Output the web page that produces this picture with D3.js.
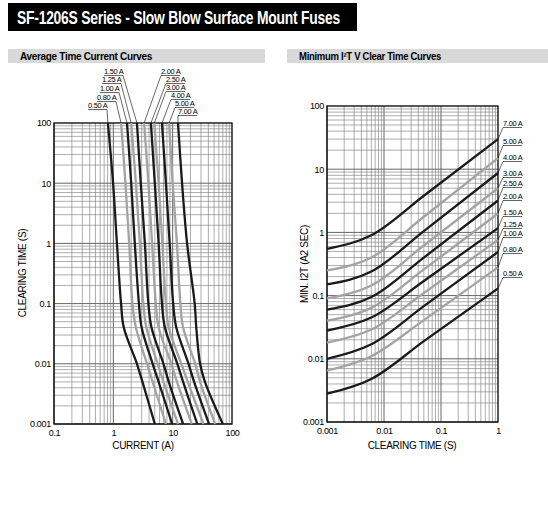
<!DOCTYPE html>
<html><head><meta charset="utf-8">
<script src="https://cdn.jsdelivr.net/npm/d3@7"></script>
<style>
body{margin:0;background:#fff}
svg{font-family:"Liberation Sans",Arial,sans-serif;letter-spacing:-0.3px}
</style></head>
<body><svg id="c" width="548" height="522"></svg>
<script>
// ratings, shared by both charts
const ratings = ['0.50 A','0.80 A','1.00 A','1.25 A','1.50 A','2.00 A','2.50 A','3.00 A','4.00 A','5.00 A','7.00 A'];
const colors = ['#1a1a1a','#a3a3a3','#1a1a1a','#a3a3a3','#1a1a1a','#a3a3a3','#1a1a1a','#a3a3a3','#1a1a1a','#a3a3a3','#1a1a1a'];

// left: clearing time (s) vs current (A)
const ttTimes = [100, 10, 1, 0.1, 0.04, 0.01, 0.005, 0.001];
const ttCurrents = [
  [0.81, 0.99, 1.15, 1.35, 1.5, 2.5, 3.1, 5.0],
  [1.35, 1.6, 1.85, 2.1, 2.4, 3.7, 4.6, 7.7],
  [1.7, 2.0, 2.3, 2.7, 3.0, 4.6, 5.8, 9.8],
  [2.0, 2.4, 2.8, 3.2, 3.6, 5.6, 7.0, 12.3],
  [2.5, 2.9, 3.4, 3.9, 4.4, 7.0, 8.6, 15],
  [3.3, 3.9, 4.5, 5.2, 5.8, 9.5, 11.8, 21],
  [4.3, 5.0, 5.8, 6.6, 7.4, 12, 15, 26],
  [4.9, 5.8, 6.7, 7.7, 8.6, 14, 18, 33],
  [6.6, 7.7, 8.9, 10.2, 11.5, 18.5, 23, 41],
  [8.7, 10, 11.8, 13.5, 15, 24, 29, 52],
  [12.3, 14.4, 17.5, 23.5, 25, 29, 35, 70]
];
// label positions (top left group / right group)
const ttLabelPos = [[88,108],[97,100],[100,91],[102,82],[104,74],[161,74],[166,82],[166,90],[171,98],[175,106],[178,114]];

// right: min I2t vs clearing time
const i2tTimes = [0.001, 0.006, 0.05, 1];
const i2tValues = [
  [0.0028, 0.0048, 0.019, 0.13],
  [0.0065, 0.011, 0.041, 0.28],
  [0.01, 0.017, 0.068, 0.49],
  [0.018, 0.029, 0.11, 0.76],
  [0.028, 0.045, 0.17, 1.17],
  [0.04, 0.064, 0.26, 2.0],
  [0.06, 0.095, 0.40, 3.2],
  [0.09, 0.145, 0.62, 5.0],
  [0.15, 0.24, 1.05, 8.7],
  [0.25, 0.4, 1.77, 15],
  [0.55, 0.9, 3.8, 30]
];
const i2tLabelY = [276, 252, 236, 227, 215, 199, 186, 176, 160, 144, 126];

const svg = d3.select('#c');

// title
svg.append('rect').attr('x', 8).attr('y', 3).attr('width', 349).attr('height', 28).attr('fill', '#000');
svg.append('text').attr('x', 17).attr('y', 24).attr('fill', '#fff').attr('font-size', 19).attr('font-weight', 700)
  .attr('textLength', 323).attr('lengthAdjust', 'spacingAndGlyphs')
  .text('SF-1206S Series - Slow Blow Surface Mount Fuses');

function header(x, w, txt, len) {
  svg.append('rect').attr('x', x).attr('y', 49).attr('width', w).attr('height', 14).attr('fill', '#d9d9d9');
  svg.append('text').attr('x', x + 12).attr('y', 60).attr('font-size', 10).attr('font-weight', 700)
    .attr('textLength', len).attr('lengthAdjust', 'spacingAndGlyphs').text(txt);
}
header(8, 257, 'Average Time Current Curves', 132);
header(287, 261, 'Minimum I²T V Clear Time Curves', 142);

function grid(g, x, y, xd, yd) {
  const [x0, x1] = x.range(), [y0, y1] = y.range();
  const minors = (d) => {
    const out = [];
    for (let e = Math.log10(d[0]); e < Math.log10(d[1]); e++)
      for (let m = 1; m < 10; m++) out.push({v: m * Math.pow(10, e), major: m === 1});
    return out;
  };
  minors(xd).forEach(o => g.append('line').attr('x1', x(o.v)).attr('x2', x(o.v)).attr('y1', y0).attr('y2', y1)
    .attr('stroke', o.major ? '#555' : '#777').attr('stroke-width', o.major ? 0.9 : 0.6));
  minors(yd).forEach(o => g.append('line').attr('y1', y(o.v)).attr('y2', y(o.v)).attr('x1', x0).attr('x2', x1)
    .attr('stroke', o.major ? '#555' : '#777').attr('stroke-width', o.major ? 0.9 : 0.6));
  g.append('rect').attr('x', x0).attr('y', y1).attr('width', x1 - x0).attr('height', y0 - y1)
    .attr('fill', 'none').attr('stroke', '#000').attr('stroke-width', 1.3);
}
const fmt = d => String(d);
const styleTicks = a => { a.select('.domain').remove(); a.selectAll('text').attr('font-size', 9).attr('font-family', null); };

// ---- left chart
const xL = d3.scaleLog().domain([0.1, 100]).range([54, 232]);
const yL = d3.scaleLog().domain([0.001, 100]).range([424, 123]);
const gL = svg.append('g');
grid(gL, xL, yL, [0.1, 100], [0.001, 100]);
gL.append('g').attr('transform', 'translate(0,424)')
  .call(d3.axisBottom(xL).tickValues([0.1, 1, 10, 100]).tickFormat(fmt).tickSize(0).tickPadding(6)).call(styleTicks);
gL.append('g').attr('transform', 'translate(54,0)')
  .call(d3.axisLeft(yL).tickValues([0.001, 0.01, 0.1, 1, 10, 100]).tickFormat(fmt).tickSize(0).tickPadding(3)).call(styleTicks);
const lineL = d3.line().curve(d3.curveCatmullRom.alpha(0.5));
ttCurrents.forEach((c, i) => {
  gL.append('path').attr('d', lineL(c.map((v, j) => [xL(v), yL(ttTimes[j])])))
    .attr('fill', 'none').attr('stroke', colors[i]).attr('stroke-width', 2.3);
  const [lx, ly] = ttLabelPos[i];
  gL.append('text').attr('x', lx).attr('y', ly).attr('font-size', 7.5).text(ratings[i]);
  const w = 19;
  const ex = i < 5 ? lx + w : lx;
  gL.append('line').attr('x1', lx).attr('x2', lx + w).attr('y1', ly + 1.5).attr('y2', ly + 1.5).attr('stroke', '#000').attr('stroke-width', 0.6);
  gL.append('line').attr('x1', ex).attr('y1', ly + 1.5).attr('x2', xL(c[0])).attr('y2', 123).attr('stroke', '#000').attr('stroke-width', 0.6);
});
svg.append('text').attr('x', 143).attr('y', 449).attr('text-anchor', 'middle').attr('font-size', 10).text('CURRENT (A)');
svg.append('text').attr('transform', 'translate(26,273) rotate(-90)').attr('text-anchor', 'middle').attr('font-size', 10).text('CLEARING TIME (S)');

// ---- right chart
const xR = d3.scaleLog().domain([0.001, 1]).range([327, 498]);
const yR = d3.scaleLog().domain([0.001, 100]).range([422, 106]);
const gR = svg.append('g');
grid(gR, xR, yR, [0.001, 1], [0.001, 100]);
gR.append('g').attr('transform', 'translate(0,422)')
  .call(d3.axisBottom(xR).tickValues([0.001, 0.01, 0.1, 1]).tickFormat(fmt).tickSize(0).tickPadding(6)).call(styleTicks);
gR.append('g').attr('transform', 'translate(327,0)')
  .call(d3.axisLeft(yR).tickValues([0.001, 0.01, 0.1, 1, 10, 100]).tickFormat(fmt).tickSize(0).tickPadding(3)).call(styleTicks);
const lineR = d3.line().curve(d3.curveMonotoneX);
i2tValues.forEach((c, i) => {
  gR.append('path').attr('d', lineR(c.map((v, j) => [xR(i2tTimes[j]), yR(v)])))
    .attr('fill', 'none').attr('stroke', colors[i]).attr('stroke-width', 2.3);
  const ly = i2tLabelY[i];
  gR.append('text').attr('x', 503).attr('y', ly).attr('font-size', 7.5).text(ratings[i]);
  gR.append('line').attr('x1', 503).attr('x2', 522).attr('y1', ly + 1.5).attr('y2', ly + 1.5).attr('stroke', '#000').attr('stroke-width', 0.6);
  gR.append('line').attr('x1', 498).attr('y1', yR(c[c.length - 1])).attr('x2', 503).attr('y2', ly + 1.5).attr('stroke', '#000').attr('stroke-width', 0.6);
});
svg.append('text').attr('x', 412).attr('y', 449).attr('text-anchor', 'middle').attr('font-size', 10).text('CLEARING TIME (S)');
svg.append('text').attr('transform', 'translate(308,264) rotate(-90)').attr('text-anchor', 'middle').attr('font-size', 10).text('MIN. I2T (A2 SEC)');
</script></body></html>
